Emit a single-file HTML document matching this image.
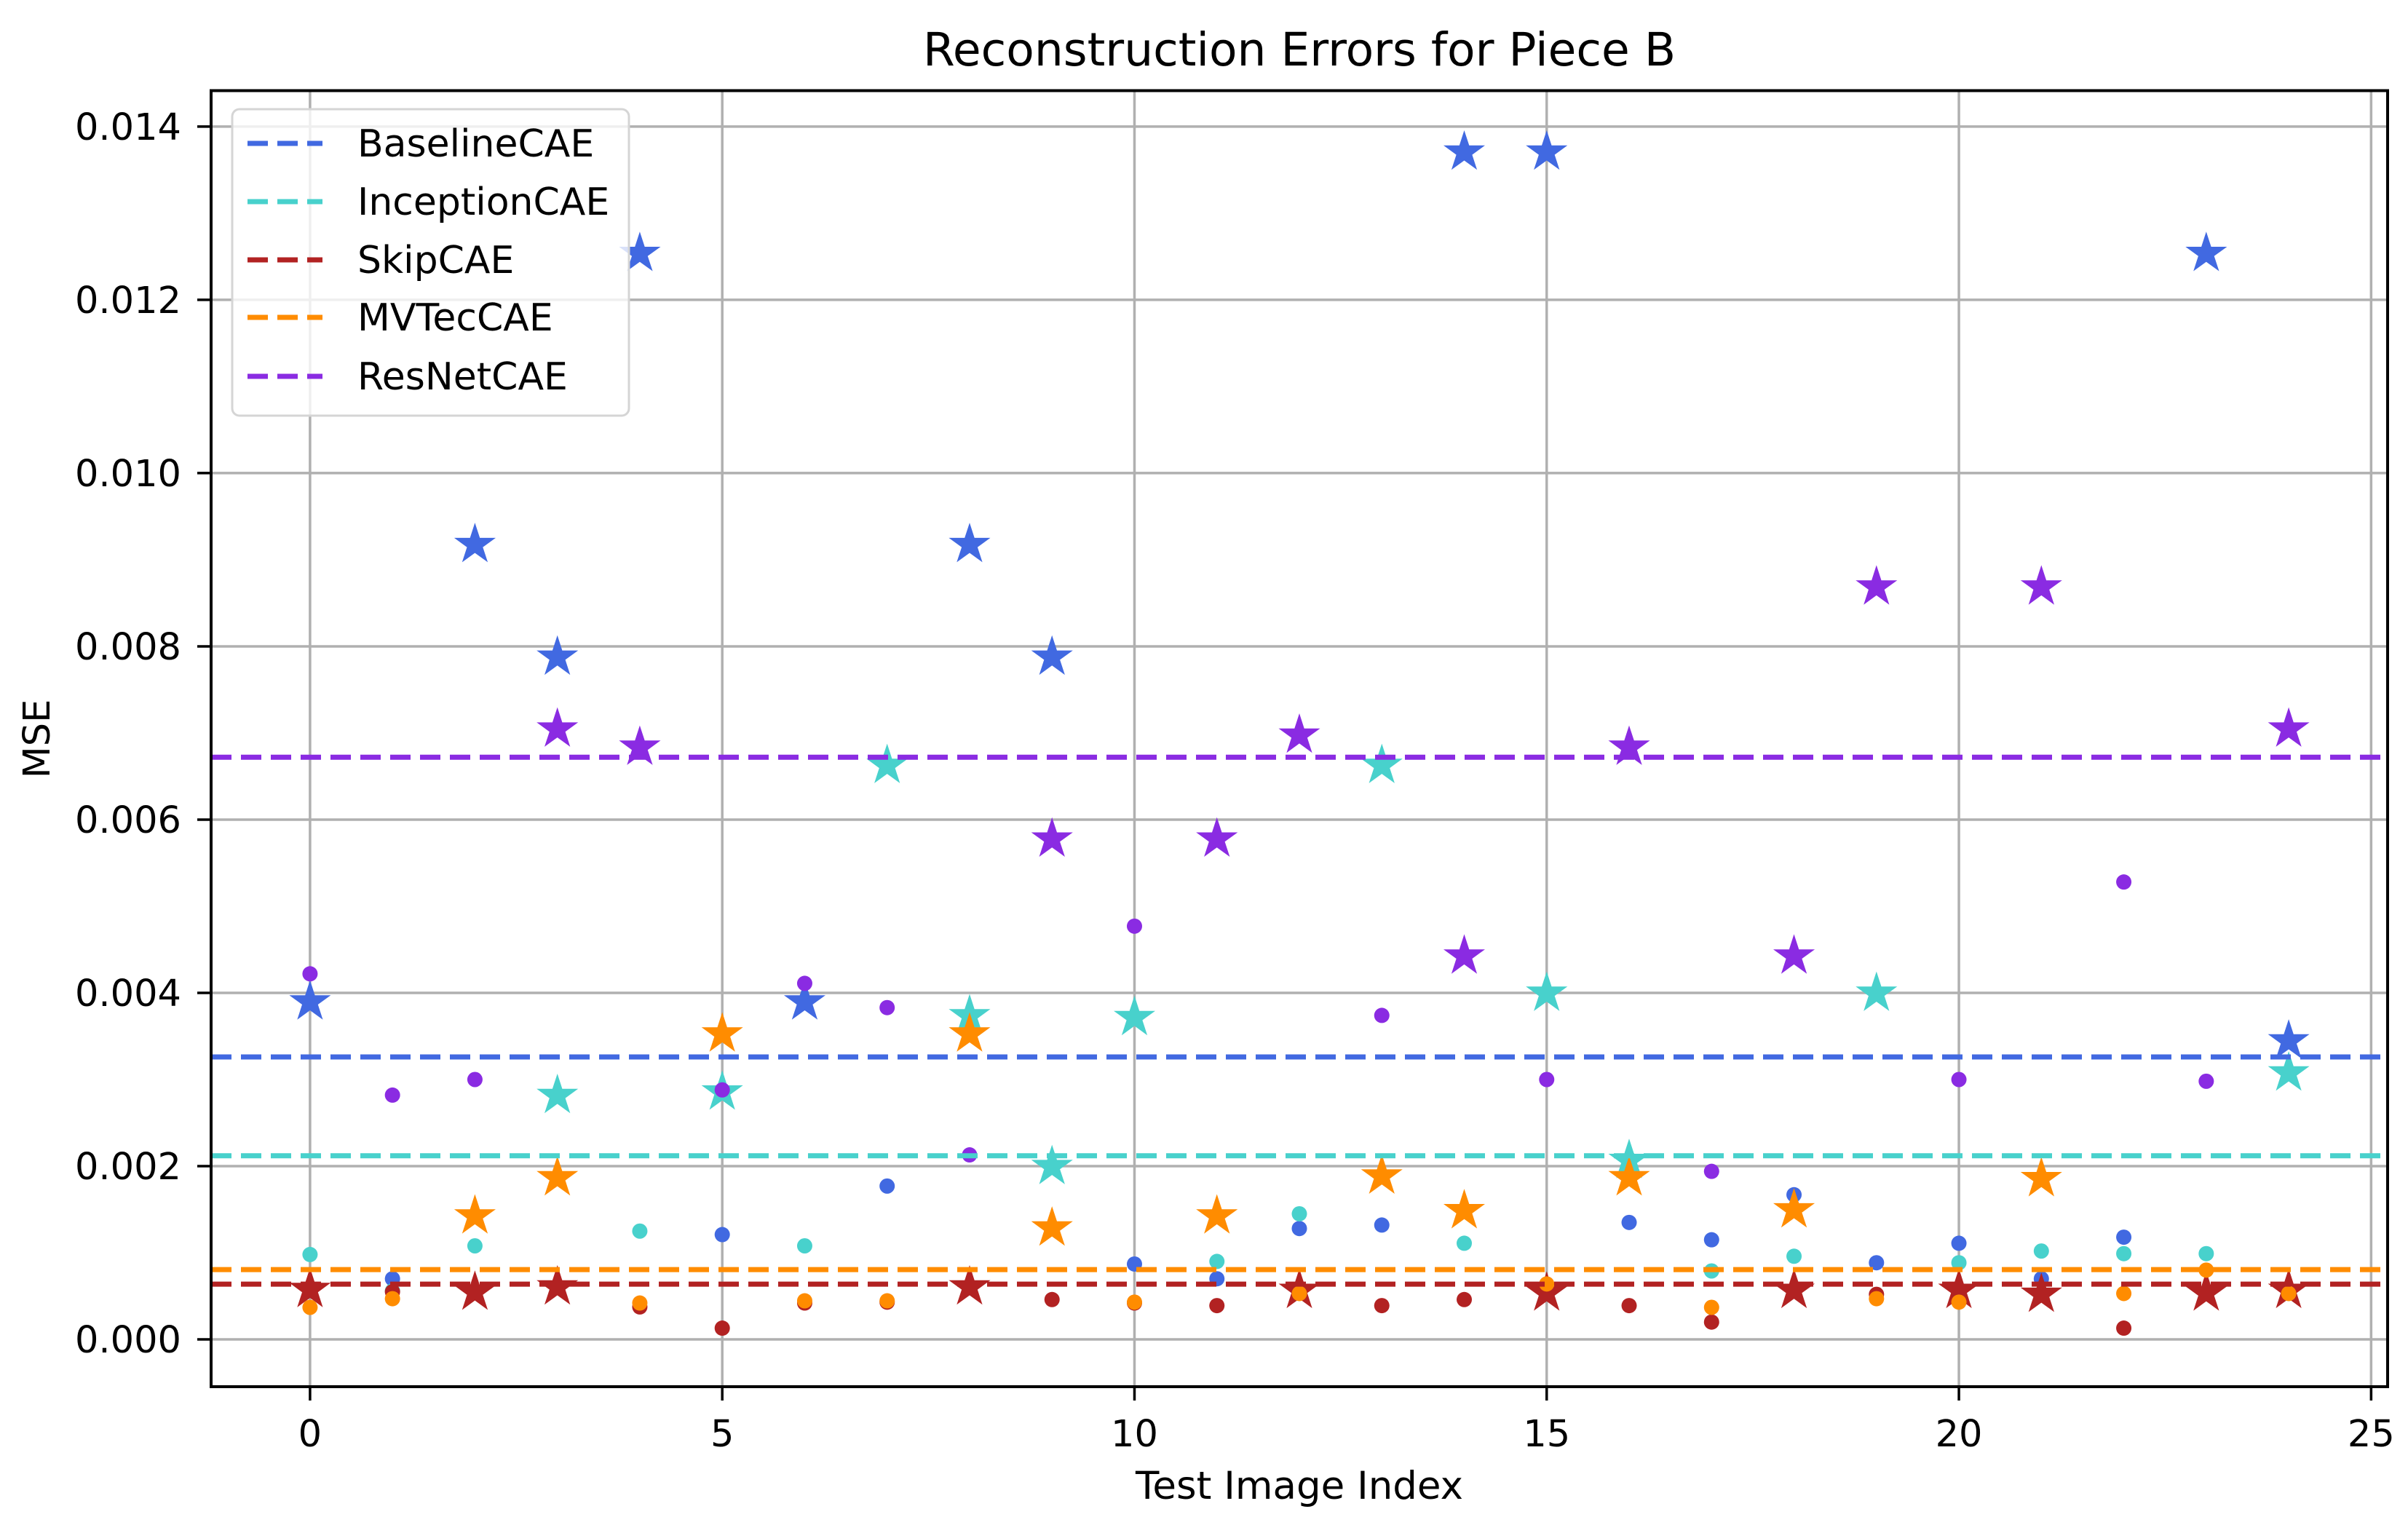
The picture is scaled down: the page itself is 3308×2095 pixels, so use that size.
<!DOCTYPE html>
<html><head><meta charset="utf-8">
<style>
html,body{margin:0;padding:0;background:#fff;}
svg{display:block;}
text{font-family:"DejaVu Sans","Liberation Sans",sans-serif;fill:#000;}
</style></head>
<body>
<svg id="chart" width="3308" height="2095" viewBox="0 0 3308 2095" xmlns="http://www.w3.org/2000/svg">
<rect width="3308" height="2095" fill="#fff"/>
<text x="1785" y="90" font-size="63" text-anchor="middle">Reconstruction Errors for Piece B</text>
<g id="grid"></g>
<g id="marks"></g>
<g id="means"></g>
<rect x="290" y="124.5" width="2990" height="1780.5" fill="none" stroke="#000" stroke-width="4"/>
<g id="axes"></g>
<text x="1785" y="2059" font-size="53" text-anchor="middle">Test Image Index</text>
<text x="0" y="0" font-size="51" text-anchor="middle" transform="translate(68,1015) rotate(-90)">MSE</text>
<g id="legend"></g>
</svg>
<script>
// ---- data (MSE values in units of 0.001) ----
const indices = [0,1,2,3,4,5,6,7,8,9,10,11,12,13,14,15,16,17,18,19,20,21,22,23,24];
const seriesNames = ["BaselineCAE","InceptionCAE","SkipCAE","MVTecCAE","ResNetCAE"];
const seriesColors = ["#4169E1","#48D1CC","#B22222","#FF8C00","#8A2BE2"];
const baselineValues  = [3.92,0.70,9.20,7.90,12.56,1.21,3.92,1.77,9.20,7.90,0.87,0.70,1.28,1.32,13.73,13.73,1.35,1.15,1.67,0.885,1.11,0.70,1.18,12.56,3.47];
const inceptionValues = [0.98,0.56,1.08,2.84,1.25,2.88,1.08,6.65,3.76,2.02,3.74,0.90,1.45,6.65,1.11,4.02,2.09,0.79,0.96,4.02,0.885,1.02,0.99,0.99,3.10];
const skipValues      = [0.60,0.55,0.57,0.63,0.375,0.13,0.42,0.43,0.63,0.46,0.42,0.39,0.59,0.39,0.46,0.56,0.39,0.20,0.59,0.52,0.59,0.545,0.13,0.56,0.59];
const mvtecValues     = [0.37,0.47,1.45,1.89,0.42,3.55,0.445,0.445,3.55,1.31,0.43,1.45,0.53,1.91,1.51,0.64,1.89,0.37,1.52,0.47,0.43,1.88,0.53,0.80,0.53];
const resnetValues    = [4.22,2.82,3.00,7.07,6.86,2.88,4.11,3.83,2.13,5.80,4.77,5.80,7.00,3.74,4.45,3.00,6.86,1.94,4.45,8.71,3.00,8.71,5.28,2.98,7.07];
const baselineStars  = [0,2,3,4,6,8,9,14,15,23,24];
const inceptionStars = [3,5,7,8,9,10,13,15,16,19,24];
const skipStars      = [0,2,3,8,12,15,18,20,21,23,24];
const mvtecStars     = [2,3,5,8,9,11,13,14,16,18,21];
const resnetStars    = [3,4,9,11,12,14,16,18,19,21,24];
const meanValues = [3.26,2.12,0.638,0.806,6.72];
const xTicks = [0,5,10,15,20,25];
const yTicks = [0,2,4,6,8,10,12,14];
const yTickLabels = ["0.000","0.002","0.004","0.006","0.008","0.010","0.012","0.014"];

const NS="http://www.w3.org/2000/svg";
const L=290,R=3280,T=124.5,B=1905;
const xMin=-1.2,xMax=25.2,yMin=-0.546,yMax=14.415;
function X(v){return L+(v-xMin)/(xMax-xMin)*(R-L);}
function Y(v){return B-(v-yMin)/(yMax-yMin)*(B-T);}
function mk(tag,attrs,parent){const e=document.createElementNS(NS,tag);for(const k in attrs)e.setAttribute(k,attrs[k]);parent.appendChild(e);return e;}

const grid=document.getElementById('grid'),axes=document.getElementById('axes');
xTicks.forEach(t=>{
  const g=mk('line',{x1:X(t),x2:X(t),y1:T,y2:B,stroke:'#b0b0b0','stroke-width':3.5},grid);
  
  
  const tk=mk('line',{x1:X(t),x2:X(t),y1:B,y2:B+19,stroke:'#000','stroke-width':3.5},axes);
  
  
  const tx=mk('text',{x:X(t),y:1987,'font-size':51,'text-anchor':'middle'},axes);
  tx.textContent=String(t);
  
  
});
yTicks.forEach((t,i)=>{
  const g=mk('line',{x1:L,x2:R,y1:Y(t),y2:Y(t),stroke:'#b0b0b0','stroke-width':3.5},grid);
  
  
  const tk=mk('line',{x1:L-19,x2:L,y1:Y(t),y2:Y(t),stroke:'#000','stroke-width':3.5},axes);
  
  
  const tx=mk('text',{x:249,y:Y(t)+18,'font-size':51,'text-anchor':'end'},axes);
  tx.textContent=yTickLabels[i];
  
  
});

function starPts(cx,cy,Ro){
  const ri=Ro*0.382,p=[];
  for(let k=0;k<10;k++){const r=k%2?ri:Ro;const a=-Math.PI/2+k*Math.PI/5;p.push((cx+r*Math.cos(a)).toFixed(1)+','+(cy+r*Math.sin(a)).toFixed(1));}
  return p.join(' ');
}
const allValues=[baselineValues,inceptionValues,skipValues,mvtecValues,resnetValues];
const allStars=[baselineStars,inceptionStars,skipStars,mvtecStars,resnetStars];
const marks=document.getElementById('marks');
allValues.forEach((vals,s)=>{
  const g=mk('g',{},marks);
  
  
  vals.forEach((v,i)=>{
    const cx=X(indices[i]),cy=Y(v);
    let e;
    if(allStars[s].includes(i)){
      e=mk('polygon',{points:starPts(cx,cy+3,30),fill:seriesColors[s]},g);
      
    } else {
      e=mk('circle',{cx:cx,cy:cy,r:10.5,fill:seriesColors[s]},g);
      
    }
    
  });
});
const means=document.getElementById('means');
meanValues.forEach((m,s)=>{
  const l=mk('line',{x1:L,x2:R,y1:Y(m),y2:Y(m),stroke:seriesColors[s],'stroke-width':7,'stroke-dasharray':'28 13'},means);
  
  
});

const lg=document.getElementById('legend');


const box=mk('rect',{x:319,y:150,width:545,height:421,rx:10,fill:'#fff','fill-opacity':0.8,stroke:'#d5d5d5','stroke-width':3},lg);


const rowsY=[197,277,357,436,517];
seriesNames.forEach((n,s)=>{
  const h=mk('line',{x1:340,x2:443,y1:rowsY[s],y2:rowsY[s],stroke:seriesColors[s],'stroke-width':7,'stroke-dasharray':'28 13'},lg);
  
  
  const t=mk('text',{x:491,y:rowsY[s]+18,'font-size':52},lg);
  t.textContent=n;
  
  
});
</script>
</body></html>
